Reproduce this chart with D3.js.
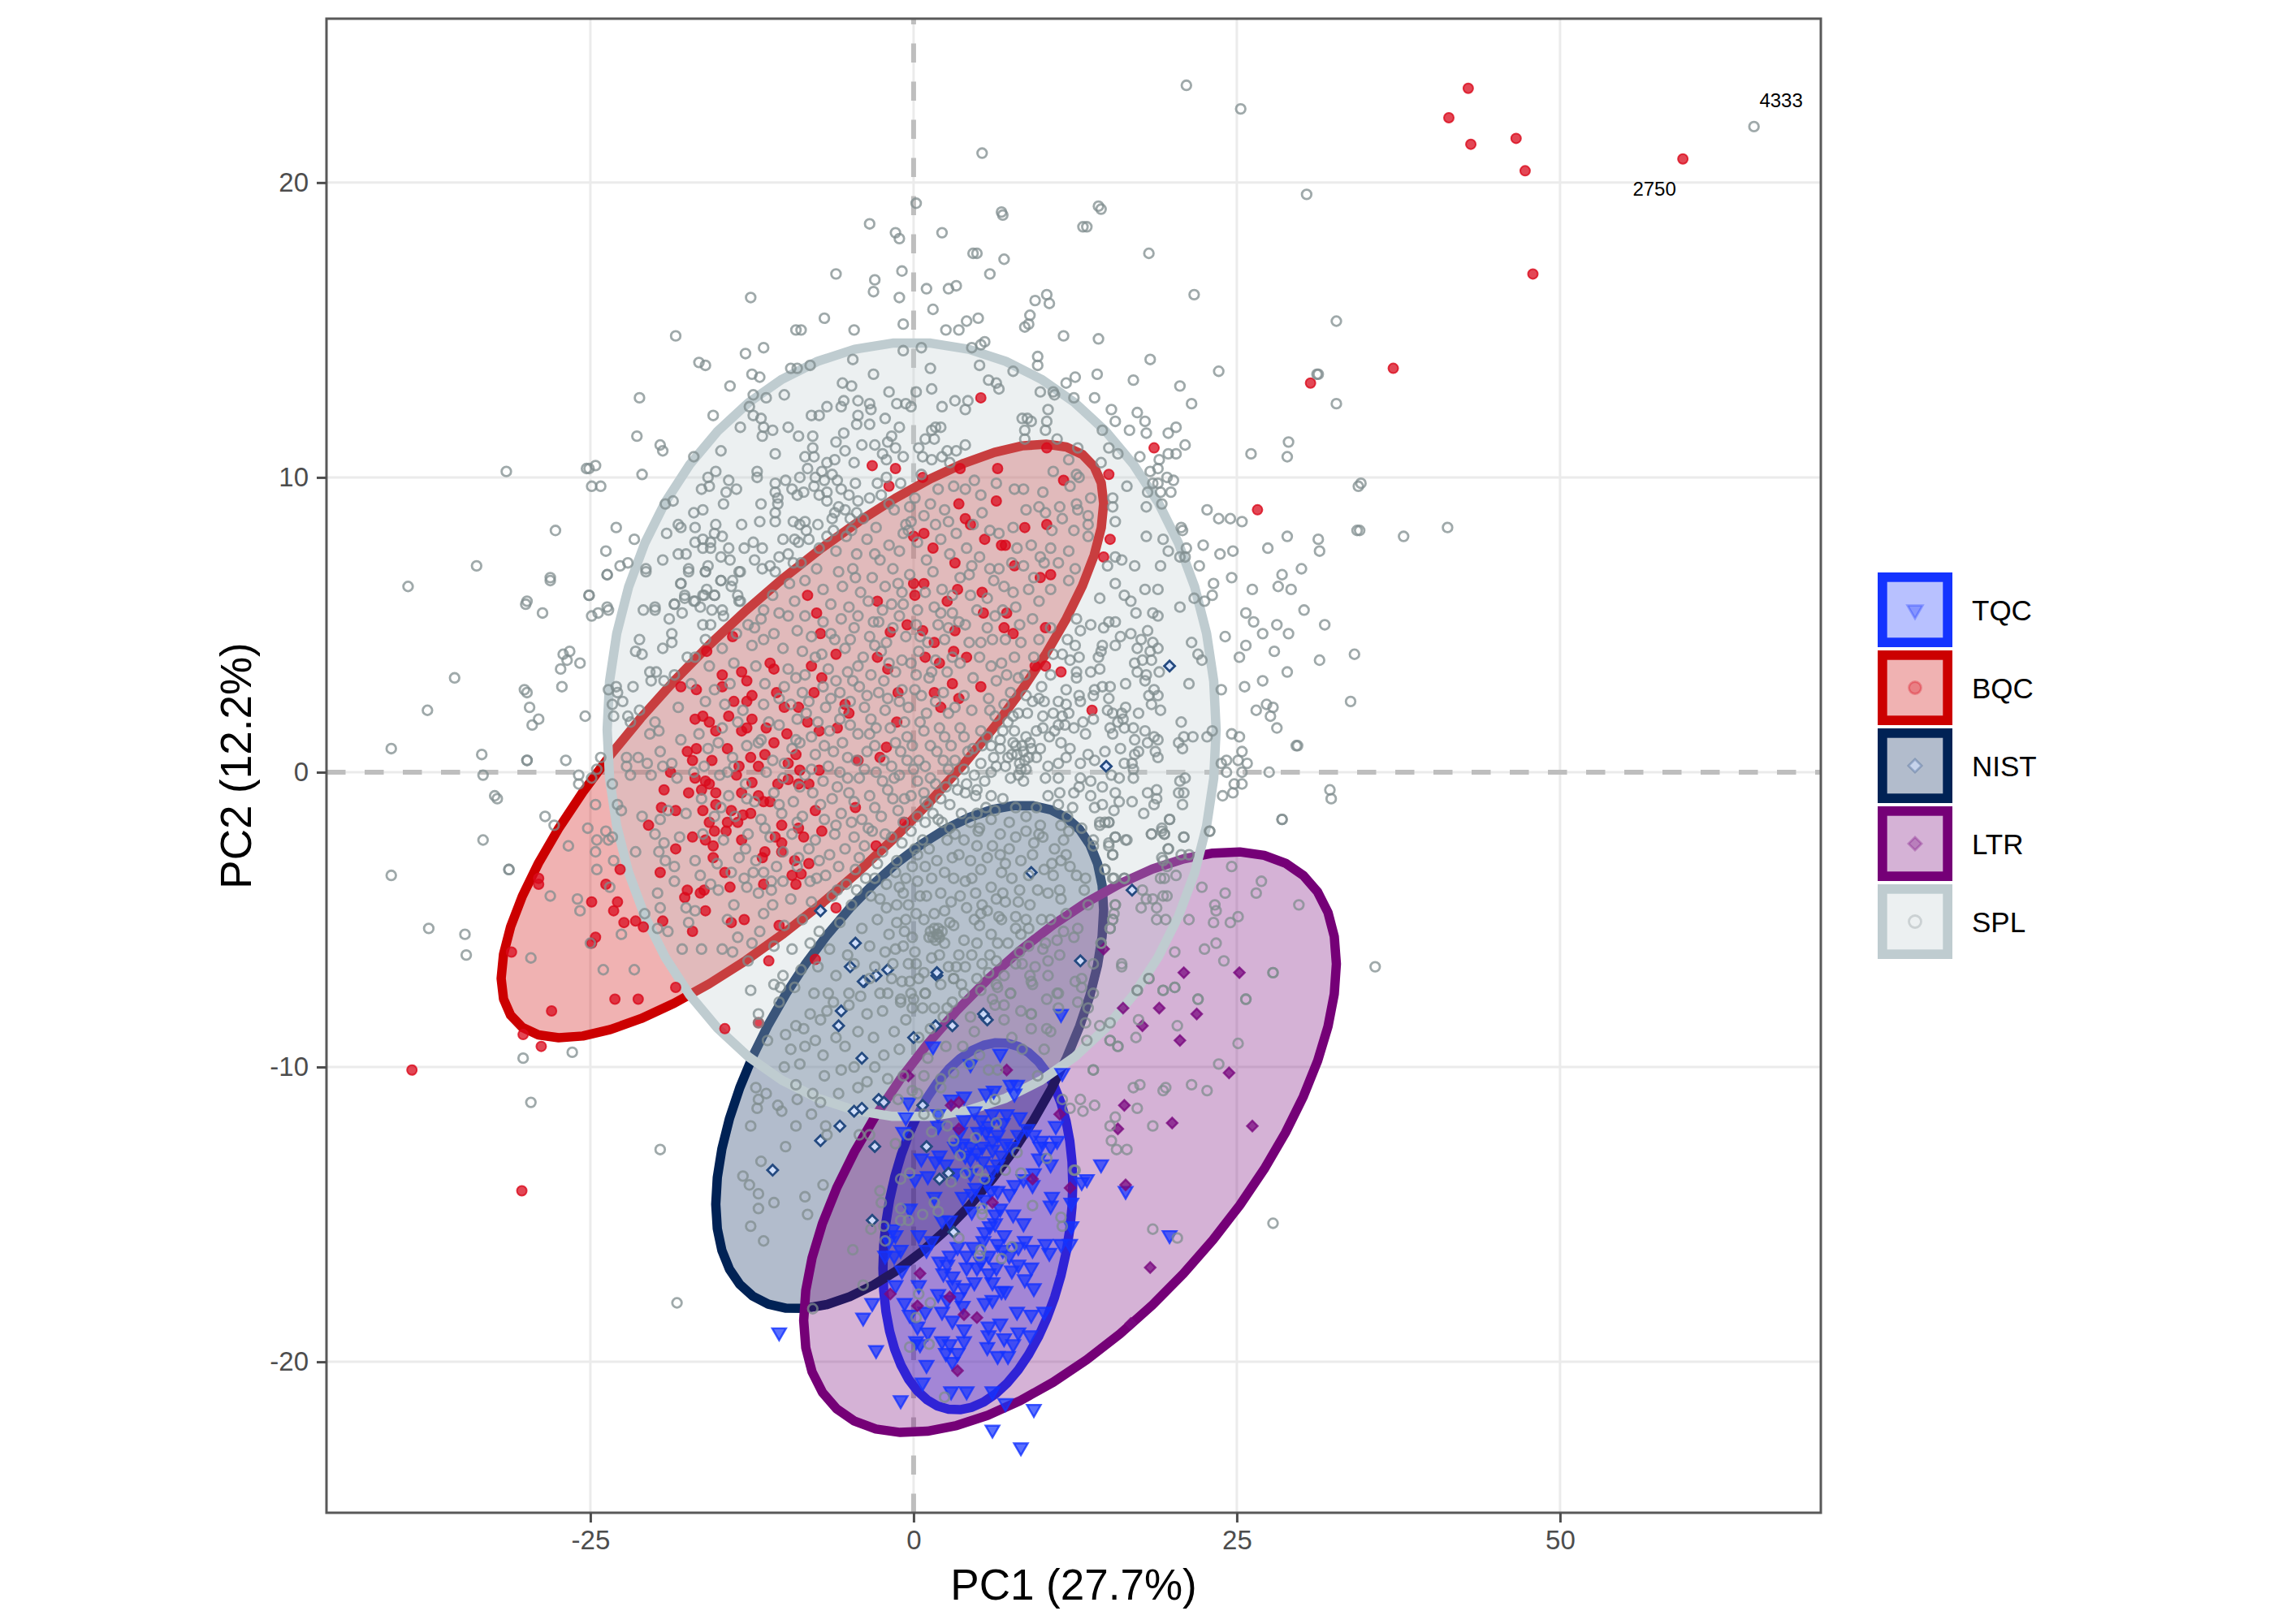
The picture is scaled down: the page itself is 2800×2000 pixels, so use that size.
<!DOCTYPE html>
<html>
<head>
<meta charset="utf-8">
<script src="https://cdn.jsdelivr.net/npm/d3@7"></script>
<style>
  body { margin: 0; background: #fff; }
  text { font-family: "Liberation Sans", Arial, sans-serif; }
</style>
</head>
<body>
<div id="chart"></div>
<script>
// Groups in drawing order
const groups = ["TQC", "BQC", "NIST", "LTR", "SPL"];
const ellipseColors = ["#1433FF", "#CC0000", "#002255", "#750077", "#BFCCD0"];

// Ellipse centres, half widths, half heights and correlation, PC units
const ellipseCx = [4.97, -8.6, -0.3, 12.1, -0.15];
const ellipseCy = [-15.4, 1.06, -9.66, -12.55, 1.44];
const ellipseSx = [7.34, 23.3, 15.0, 20.6, 23.55];
const ellipseSy = [6.23, 10.07, 8.54, 9.85, 13.14];
const ellipseR = [0.23, 0.8, 0.585, 0.614, 0.0];

const xTicks = [-25, 0, 25, 50];
const yTicks = [-20, -10, 0, 10, 20];

const labelNames = ["4333", "2750"];
const labelPC1 = [67.1, 57.3];
const labelPC2 = [22.8, 19.8];

const tqc = [[1.5,-9.3],[6.7,-9.55],[4.4,-9.9],[11.5,-10.2],[11.4,-8.2],[-0.4,-11.2],[-0.6,-11.7],[2.9,-11.1],[3.9,-11.0],[5.6,-10.9],[6.2,-10.8],[7.5,-10.6],[8.0,-10.6],[7.8,-10.9],[1.9,-11.6],[4.7,-11.5],[6.1,-11.6],[7.2,-11.6],[8.2,-11.7],[3.9,-11.8],[5.2,-11.8],[1.9,-12.0],[-0.8,-12.2],[5.8,-12.0],[6.9,-11.9],[8.8,-12.1],[11.0,-12.0],[5.6,-12.2],[6.5,-12.3],[8.1,-12.3],[9.3,-12.3],[9.9,-12.5],[11.1,-12.5],[3.8,-12.6],[6.1,-12.5],[4.4,-12.7],[3.2,-12.7],[5.3,-12.7],[7.6,-12.7],[9.8,-12.7],[10.6,-12.7],[6.1,-12.8],[0.6,-13.1],[2.0,-13.0],[4.0,-13.0],[9.7,-13.1],[1.7,-13.2],[2.5,-13.3],[4.4,-13.1],[10.6,-13.3],[6.5,-13.3],[14.5,-13.3],[0.1,-13.8],[1.1,-13.7],[3.3,-13.6],[4.4,-13.6],[6.1,-13.5],[8.5,-13.8],[9.3,-13.6],[7.8,-14.0],[9.2,-14.0],[13.0,-13.9],[13.4,-13.8],[16.4,-14.2],[1.6,-14.4],[3.8,-14.4],[4.5,-14.3],[6.5,-14.2],[7.4,-14.3],[10.7,-14.4],[12.2,-14.6],[5.5,-14.5],[10.6,-14.7],[-0.3,-14.8],[4.5,-14.9],[6.3,-15.0],[-1.6,-15.5],[2.2,-15.2],[2.8,-15.2],[8.5,-15.3],[12.2,-15.4],[6.3,-15.3],[-1.4,-15.7],[0.4,-15.7],[5.5,-15.6],[7.0,-15.7],[19.8,-15.7],[1.4,-15.9],[-1.9,-15.9],[5.4,-15.9],[6.5,-16.0],[8.6,-15.9],[10.2,-16.0],[11.4,-16.0],[12.1,-16.0],[-2.2,-16.4],[-1.0,-16.2],[-1.5,-16.4],[1.0,-16.2],[4.6,-16.1],[8.1,-16.1],[9.2,-16.2],[10.5,-16.3],[2.8,-16.4],[4.1,-16.4],[5.8,-16.4],[7.4,-16.4],[2.0,-16.6],[4.1,-16.8],[4.9,-16.8],[2.6,-16.7],[6.4,-16.8],[8.1,-16.7],[9.1,-16.8],[-0.9,-16.9],[0.4,-17.4],[2.3,-17.0],[5.8,-17.0],[8.6,-17.2],[6.8,-17.6],[9.3,-17.5],[-1.4,-17.4],[3.1,-17.4],[3.9,-17.5],[7.1,-17.6],[6.1,-17.3],[1.9,-17.7],[3.5,-17.8],[5.5,-18.0],[6.1,-17.9],[-3.2,-18.0],[-0.7,-18.0],[-0.3,-18.4],[0.9,-18.3],[2.2,-18.3],[8.0,-18.3],[10.1,-18.3],[9.1,-18.4],[-3.9,-18.5],[3.0,-18.6],[0.3,-18.8],[5.8,-18.8],[6.7,-18.7],[3.9,-18.9],[8.1,-19.0],[9.0,-19.1],[1.1,-19.0],[0.2,-19.3],[2.2,-19.3],[3.9,-19.3],[5.8,-19.1],[7.0,-19.2],[0.5,-19.4],[2.8,-19.4],[5.7,-19.5],[7.7,-19.4],[-10.4,-19.0],[-2.9,-19.6],[2.5,-19.7],[3.4,-19.7],[6.5,-19.8],[7.3,-19.8],[3.0,-20.0],[1.0,-20.1],[0.7,-20.7],[2.9,-21.0],[4.1,-21.0],[6.1,-21.0],[-1.0,-21.3],[7.1,-21.4],[9.3,-21.6],[6.1,-22.3],[8.3,-22.9],
[4.9,-12.9],[5.4,-13.2],[6.8,-13.0],[3.6,-12.2],[5.0,-12.2],[7.1,-12.6],[5.7,-13.9],[4.8,-14.1],[6.0,-14.2],[6.7,-14.8],[7.7,-15.0],[5.9,-15.4],[6.9,-16.2],[3.4,-16.1],[5.2,-16.6],[7.6,-16.9],[3.0,-17.1],[2.6,-17.9],[4.7,-17.3],[3.8,-18.1]];

const bqc = [[42.9,23.2],[41.4,22.2],[43.1,21.3],[46.6,21.5],[47.3,20.4],[47.9,16.9],[59.5,20.8],[30.7,13.2],[18.6,11.0],[26.6,8.9],[15.1,10.1],[11.6,9.9],[15.2,7.9],[14.7,7.3],[5.2,12.7],[10.3,11.0],[6.5,10.3],[6.4,9.2],[8.6,8.3],[10.3,8.4],[6.8,7.7],[7.1,7.7],[5.5,7.9],[9.8,6.6],[10.6,6.7],[7.8,7.0],[5.3,6.1],[37.1,13.7],[-30.3,-14.2],[-38.8,-10.1],[-28.8,-9.3],[-30.2,-8.9],[-28,-8.1],[-3.2,10.4],[-1.4,10.3],[0.7,10.0],[3.6,10.3],[-1.9,9.7],[3.5,9.1],[4.0,8.6],[4.4,8.4],[0,8.0],[0.8,8.1],[1.5,7.6],[3.2,7.1],[0,6.4],[0.8,6.4],[-8.2,6.0],[-2.8,5.8],[2.6,5.8],[0.1,6.0],[3.4,6.2],[-7.5,5.4],[-14.0,4.6],[-16.0,4.1],[-7.2,4.7],[-11.1,3.7],[-10.8,3.5],[-7.9,3.6],[-6.0,4.0],[-2.8,3.9],[-2.0,3.5],[-1.8,4.75],[-18.0,2.9],[-16.8,2.8],[-14.8,3.3],[-14.8,2.9],[-13.3,3.4],[-12.9,3.1],[-7.1,3.2],[-7.7,2.7],[-10.6,2.7],[-12.5,2.6],[-13.9,2.4],[-12.9,2.4],[-8.9,2.2],[-5.0,2.0],[-5.3,2.3],[-10.0,2.2],[-14.3,1.9],[-16.9,1.8],[-16.3,1.9],[-15.8,1.7],[-12.5,1.8],[-12.9,1.5],[-11.4,1.5],[-8.2,1.7],[-5.9,1.5],[-7.3,1.4],[-15.3,1.4],[-13.3,1.4],[-9.8,1.3],[-14.4,0.8],[-17.5,0.7],[-16.8,0.8],[-17.1,0.4],[-10.8,1.0],[-2.1,0.85],[-9.1,0.6],[-11.5,0.6],[-12.6,0.5],[-4.3,0.4],[-2.6,0.5],[-15.6,0.4],[-13.5,0.2],[-9.7,0.3],[-18.8,0],[-8.8,0.07],[-7.3,0.07],[-12.0,0.2],[-13.7,-0.1],[-16.9,-0.2],[-9.7,-0.25],[-16.1,-0.3],[-8.1,-0.4],[-12.5,-0.35],[-10.5,-0.4],[-15.8,-0.4],[-8.9,-0.4],[-19.3,-0.6],[-17.4,-0.7],[-16.4,-0.6],[-15.3,-0.7],[-13.3,-0.7],[-12.0,-0.8],[-15.3,-1.1],[-11.1,-1.0],[-11.6,-1.0],[-19.5,-1.2],[-18.4,-1.3],[-16.3,-1.3],[-7.6,-1.3],[-4.5,-1.2],[-14.1,-1.3],[-12.6,-1.4],[-13.2,-1.45],[-20.5,-1.8],[-14.4,-1.7],[-15.8,-1.7],[-13.6,-1.7],[-10.2,-1.8],[-8.9,-1.9],[-15.4,-2.0],[-14.5,-2.0],[-17.1,-2.2],[-7.1,-2.0],[-8.5,-2.2],[-13.3,-2.3],[-10.7,-2.2],[-16.1,-2.3],[-10.2,-2.4],[-15.5,-2.5],[-2.9,-2.5],[-18.4,-2.6],[-11.5,-2.7],[-10.2,-2.7],[-15.5,-2.9],[-11.7,-2.9],[-9.2,-3.0],[-8.1,-3.1],[-22.7,-3.3],[-19.6,-3.4],[-14.6,-3.4],[-9.4,-3.5],[-8.7,-3.45],[-14.2,-3.9],[-29.0,-3.8],[-23.8,-3.8],[-11.6,-3.8],[-9.1,-3.8],[-17.5,-4.0],[-16.2,-4.0],[-16.5,-4.1],[-17.7,-4.25],[-24.9,-4.4],[-22.9,-4.4],[-16.1,-4.7],[-23.2,-4.7],[-22.4,-5.1],[-21.5,-5.05],[-20.9,-5.25],[-19.4,-5.05],[-14.1,-5.1],[-13.1,-5.0],[-10.4,-5.2],[-24.6,-5.6],[-17.1,-5.4],[-31.1,-6.1],[-11.2,-6.4],[-6.0,-4.6],[-7.6,-6.35],[-29,-3.6],[-24.9,-5.8],[-23.1,-7.7],[-21.3,-7.7],[-18.4,-7.3],[-14.6,-8.7],[-12.0,-8.5],[7.2,5.4],[7.0,4.9],[7.7,4.7],[10.2,4.9],[-0.5,5.0],[1.6,4.4],[3.1,4.1],[4.1,3.9],[2.0,3.7],[9.4,3.6],[10.2,3.6],[11.4,3.4],[13.8,2.1],[3.0,3.0],[5.2,2.9],[1.6,2.7],[-1.2,2.7],[-1.3,1.7],[3.5,2.5],[2.1,2.2],[0.7,4.8],[3.2,4.8],[5.4,5.4],[0.9,3.9],[-0.7,-1.7]];

const nist = [[-7.2,-4.7],[-4.9,-6.6],[-2.9,-6.9],[-3.8,-7.1],[1.8,-6.9],[-5.6,-8.1],[-5.8,-8.6],[0.0,-9.0],[1.7,-8.6],[3.0,-8.6],[5.5,-8.3],[5.7,-8.4],[-4.0,-9.7],[-2.7,-11.1],[-2.3,-11.2],[-4.6,-11.5],[-4.0,-11.4],[0.7,-11.3],[-5.7,-12.0],[-7.2,-12.5],[-3.0,-12.7],[1.0,-12.7],[-10.9,-13.5],[2.7,-13.6],[2.0,-13.8],[-3.2,-15.2],[3.1,-15.6],[19.8,3.6],[14.9,0.2],[9.1,-3.4],[16.9,-4.0],[1.8,-6.8],[12.9,-6.4],[5.4,-8.2],[-4.5,-5.8],[-2.0,-6.7],[-3.9,-7.1]];

const ltr = [[20.9,-6.8],[25.2,-6.8],[16.2,-8.0],[19.0,-8.0],[21.9,-8.2],[17.7,-8.6],[20.6,-9.1],[24.4,-10.2],[16.3,-11.3],[20.0,-11.9],[15.8,-12.1],[26.2,-12.0],[16.4,-14.0],[12.1,-14.1],[11.3,-11.6],[14.7,-6.0],[-0.4,-10.3],[7.2,-10.1],[2.9,-11.3],[3.5,-11.2],[3.5,-12.1],[9.2,-13.8],[6.1,-14.6],[0.5,-17.0],[-1.8,-17.7],[2.8,-17.8],[0.3,-18.1],[3.9,-18.4],[4.9,-18.5],[3.4,-20.3],[18.3,-16.8],[16.8,-18.7]];

const spl = [
[35.7,-6.6],[24.6,-3.2],[26.9,-3.7],[26.5,-4.1],[29.8,-4.5],[22.3,-3.9],[24.1,-4.1],[23.3,-4.5],[23.4,-4.7],[25.1,-4.9],[24.5,-5.1],[23.2,-5.1],[21.3,-5.0],[23.4,-5.8],[22.5,-6.0],[20.2,-6.1],[24.0,-6.4],[27.8,-6.8],[18.2,-7.0],[20.2,-7.3],[19.3,-7.4],[17.3,-7.4],[22.0,-7.7],[25.7,-7.7],[17.4,-8.4],[20.4,-8.6],[17.2,-9.0],[25.1,-9.2],[23.6,-9.9],[16.1,-6.5],[15.2,-9.1],[15.8,-9.3],[15.2,-8.5],[13.9,-10.1],[17.5,-10.6],[17.0,-10.7],[19.5,-10.7],[19.3,-10.8],[21.5,-10.6],[22.7,-10.8],[17.3,-11.4],[14.0,-11.3],[12.9,-11.1],[13.1,-11.5],[12.1,-11.4],[15.6,-11.7],[15.2,-12.0],[18.5,-12.0],[15.3,-12.5],[15.7,-12.8],[16.5,-12.8],[12.5,-13.5],
[22.9,-2.0],[20.9,-2.2],[19.8,-1.6],[18.4,-2.1],[19.4,-2.1],[19.2,-1.9],[19.7,-2.6],[16.5,-2.3],[15.6,-2.2],[15.1,-1.7],[14.4,-1.7],[15.1,-2.4],[15.4,-2.8],[14.8,-3.3],[15.4,-3.6],[16.3,-3.6],[17.7,-4.0],[19.1,-3.6],[19.4,-3.6],[20.3,-3.5],[19.6,-3.2],[20.7,-2.8],[19.2,-2.9],[19.3,-4.2],[19.6,-4.2],[18.5,-4.3],[18.0,-4.3],[17.6,-4.6],[18.8,-4.6],[19.5,-5.0],[18.8,-5.0],[15.6,-4.5],[15.5,-4.8],[15.4,-5.0],[15.2,-5.3],[28.5,-1.6],[14.5,-5.8],
[6.9,18.9],[14.5,19.1],[13.4,18.5],[18.2,17.6],[7.0,17.4],[4.9,17.6],[5.9,16.9],[21.7,16.2],[10.3,16.2],[9.4,16.0],[10.5,15.9],[9.0,15.5],[5.0,15.4],[8.9,15.2],[8.6,15.1],[11.6,14.8],[14.3,14.7],[5.5,14.6],[5.2,14.5],[9.6,14.1],[18.3,14.0],[9.6,13.8],[5.1,13.8],[7.7,13.6],[23.6,13.6],[5.8,13.3],[6.4,13.2],[6.6,13.0],[12.5,13.4],[11.8,13.2],[14.2,13.5],[17.0,13.3],[20.6,13.1],[9.8,12.9],[10.8,12.9],[10.9,12.8],[12.4,12.7],[14.0,12.7],[21.5,12.5],[10.4,12.3],[15.3,12.3],[17.3,12.2],[17.9,11.9],[15.6,11.9],[10.3,11.9],[8.8,12.0],[8.4,12.0],[9.1,11.9],[8.6,11.6],[10.2,11.6],[14.6,11.6],[16.7,11.6],[18.0,11.5],[20.3,11.7],[19.7,11.5],[21.0,11.1],[8.6,11.3],[11.1,11.3],[12.7,11.0],[15.1,11.0],[15.8,10.8],[17.5,10.7],[19.0,10.6],[19.7,10.8],[20.3,10.8],[26.1,10.8],[29.0,11.2],[28.9,10.7],[31.3,13.5],[32.7,12.5],[14.5,10.5],[18.9,10.3],[18.3,10.2],[19.6,10.0],[20.1,9.9],[16.5,9.7],[18.5,9.8],[18.9,9.8],[18.1,9.5],[19.1,9.5],[19.9,9.5],[34.4,9.7],[15.4,9.3],[18.0,9.0],[19.2,9.1],[22.7,8.9],[23.6,8.6],[24.5,8.6],[25.4,8.5],[20.7,8.3],[20.8,8.2],[34.5,8.2],[28.9,8.0],[31.3,7.9],[31.4,7.5],[22.4,7.7],[23.7,7.4],[24.7,7.5],[27.4,7.6],[21.1,7.6],[19.3,7.9],[19.7,7.5],[18.0,8.0],[20.6,7.3],[21.0,7.3],[17.1,7.0],[19.1,7.0],[22.1,7.0],[30.0,6.9],[28.5,6.7],[28.2,6.3],[23.2,6.4],[23.1,6.0],[21.7,5.9],[22.5,5.8],[20.6,5.6],[17.9,6.2],[18.9,6.2],[15.6,6.4],[16.1,7.2],[15.6,7.3],[15.0,7.0],[15.6,8.5],[15.4,9.0],[14.4,5.9],[16.3,6.0],[16.8,5.8],
[6.4,9.8],[10.8,10.2],[12.6,10.1],[12.1,9.7],[12.8,10.0],[12.0,10.6],[10.0,9.5],[13.7,9.3],[8.5,9.6],[7.8,9.6],[12.6,9.1],[12.7,8.9],[11.3,9.0],[9.7,9.0],[8.7,8.9],[10.2,8.8],[11.5,8.6],[13.5,8.7],[13.5,8.4],[10.7,8.2],[12.4,8.2],[7.7,8.3],[6.6,8.1],[13.5,8.0],[10.6,7.6],[9.1,7.7],[12.0,7.5],[8.0,7.6],[9.8,7.3],[10.1,7.1],[11.2,7.1],[12.5,6.9],[8.5,7.0],[9.3,6.6],[12.0,6.5],[10.6,6.2],[7.0,6.3],[7.7,6.1],
[0.2,19.3],[-3.4,18.6],[-1.4,18.3],[-1.1,18.1],[2.2,18.3],[4.6,17.6],[-0.9,17.0],[-6.0,16.9],[-3.0,16.7],[-3.1,16.3],[1.0,16.4],[2.7,16.4],[3.3,16.5],[-1.1,16.1],[-12.6,16.1],[1.5,15.7],[-6.9,15.4],[-0.8,15.2],[4.1,15.3],[3.5,15.0],[2.5,15.0],[-4.6,15.0],[-9.1,15.0],[-8.7,15.0],[-18.4,14.8],[-11.6,14.4],[-13.0,14.2],[-0.8,14.3],[0.6,14.4],[4.5,14.4],[-4.7,14.0],[-16.6,13.9],[-16.1,13.8],[-8.0,13.8],[-9.5,13.7],[-9.0,13.7],[-3.1,13.5],[1.3,13.7],[-12.5,13.5],[-11.9,13.4],[-14.2,13.1],[-5.5,13.2],[-4.8,13.1],[-1.9,12.9],[0.2,12.9],[1.4,13.0],[-12.4,12.8],[-11.4,12.7],[-10.0,12.8],[-21.2,12.7],[-12.7,12.4],[-4.3,12.6],[-5.4,12.6],[-5.6,12.4],[-6.7,12.4],[-3.4,12.5],[-3.3,12.3],[-4.3,12.1],[-1.3,12.5],[-0.6,12.5],[-0.2,12.4],[2.2,12.4],[3.2,12.6],[4.2,12.6],[4.0,12.3],[-15.5,12.1],[-12.4,12.1],[-11.8,12.0],[-7.9,12.1],[-7.3,12.1],[-2.2,12.0],[-3.4,11.8],[-4.4,11.8],[-13.4,11.7],[-11.6,11.7],[-10.9,11.6],[-9.7,11.7],[-1.1,11.7],[1.7,11.7],[2.1,11.7],[1.4,11.6],[-21.4,11.4],[-11.7,11.4],[-8.9,11.4],[-7.8,11.4],[-5.4,11.5],[-1.7,11.4],[0.9,11.3],[1.6,11.3],[-19.6,11.1],[-19.4,10.9],[-6.0,11.2],[-4.0,11.1],[-3.0,11.1],[-2.0,11.2],[-7.8,11.0],[-1.4,11.0],[0.4,11.0],[4.0,11.1],[-14.9,10.9],[-10.7,10.8],[-5.3,10.9],[3.3,10.9],[2.6,10.9],[-17.0,10.7],[-8.4,10.7],[-7.7,10.7],[-6.1,10.6],[-6.7,10.5],[-2.4,10.8],[-2.1,10.6],[-0.8,10.7],[0.7,10.7],[1.4,10.6],[2.2,10.7],[2.8,10.5],[-24.6,10.4],[-25.1,10.3],[-4.6,10.5],[-8.2,10.3],[-15.3,10.2],[-12.1,10.2],[-21.0,10.1],[-7.1,10.2],[-6.3,10.1],[-15.9,10.0],[-12.1,10.0],[-8.8,10.0],[-7.6,10.0],[-2.1,10.0],[-24.9,9.7],[-24.2,9.7],[-14.3,9.9],[-10.7,9.8],[-9.9,9.9],[-6.9,9.9],[-5.9,9.9],[-4.5,9.8],[-2.8,9.8],[-15.8,9.7],[-16.4,9.6],[-13.7,9.6],[-14.5,9.5],[-9.4,9.6],[-8.5,9.5],[-7.7,9.7],[-5.6,9.6],[-6.7,9.5],[-10.7,9.5],[-9.0,9.4],[-7.3,9.4],[-5.0,9.4],[-2.5,9.4],[-18.6,9.2],[-19.2,9.1],[-10.5,9.3],[-6.7,9.2],[-4.3,9.2],[-14.7,9.1],[-11.8,9.1],[-10.5,9.1],[-5.8,9.0],[-16.3,8.9],[-17.0,8.8],[-10.7,8.8],[-5.3,8.9],[-4.4,8.8],[-6.3,8.6],[-4.9,8.6],[-23.0,8.3],[-18.2,8.4],[-18.0,8.3],[-16.9,8.3],[-15.3,8.4],[-13.3,8.4],[-11.9,8.5],[-10.7,8.5],[-9.3,8.5],[-8.4,8.5],[-8.8,8.4],[-7.4,8.4],[-6.2,8.2],[-21.6,7.9],[-19.1,8.1],[-15.4,8.1],[-14.8,8.0],[-8.3,8.2],[-9.2,7.9],[-8.1,7.9],[-16.3,7.9],[-16.9,7.8],[-15.7,7.8],[-23.8,7.5],[-22.1,7.1],[-22.7,7.0],[-23.7,6.7],[-20.7,6.9],[-19.4,7.2],[-18.2,7.4],[-17.6,7.4],[-16.3,7.6],[-15.7,7.6],[-14.3,7.6],[-13.1,7.6],[-12.4,7.8],[-11.7,7.6],[-14.9,7.3],[-14.2,7.2],[-12.3,7.2],[-10.4,7.3],[-9.7,7.4],[-11.7,6.9],[-11.1,7.0],[-9.3,7.1],[-15.9,7.0],[-17.4,6.9],[-13.5,6.8],[-16.1,6.8],[-10.7,6.8],[-18.0,6.4],[-14.9,6.5],[-14.0,6.5],[-14.1,6.3],[-16.0,6.2],[-25.1,6.0],[-17.7,6.0],[-18.5,5.7],[-16.3,6.0],[-15.4,6.0],[-17.0,5.8],[-13.6,6.0],[-13.4,5.8],[-23.7,5.6],[-20.0,5.6],
[-28.1,6.5],[-23.7,6.7],[-30.0,5.7],[-28.7,5.4],[-25.1,6.0],[-23.6,5.5],[-24.4,5.4],[-24.9,5.3],[-27.1,4.0],[-25.8,3.7],[-27.3,3.5],[-27.2,2.9],[-29.9,2.7],[-29.7,2.2],[-29.0,1.8],[-29.5,1.6],[-25.4,1.9],[-29.9,0.4],[-26.9,0.4],[-24.2,0.5],[-32.2,-0.9],[-25.9,-0.1],[-25.9,-0.4],[-24.9,-0.2],[-24.5,0.1],[-28.5,-1.5],[-27.8,-1.8],[-31.3,-3.3],[-26.7,-2.5],[-25.2,-1.9],[-24.6,-1.1],[-24.5,-2.3],[-23.8,-2.0],[-23.3,-2.2],[-23.6,-2.3],[-24.6,-2.7],[-23.2,-3.0],[-24.5,-3.3],[-28.1,-4.2],[-26.0,-4.3],[-25.8,-4.7],[-23.5,-3.9],[-29.6,-6.3],[-25.0,-5.8],[-22.6,-5.5],[-24.0,-6.7],[-21.6,-6.7],[-21.5,-2.7],[-20.8,-4.8],[-23.3,-0.4],[-22.9,-1.1],[-22.6,-1.3],[-23.0,2.9],[-23.6,2.8],[-22.9,2.7],[-22.5,2.4],[-23.3,2.3],[-23.2,1.9],[-21.7,2.9],[-21.2,2.1],[-22.1,1.9],[-21.9,1.7],[-20.4,1.3],[-19.7,1.4],[-20.0,1.7],[-20.3,3.1],[-20.4,3.4],[-19.9,3.4],[-19.3,3.1],[-18.5,3.3],[-19.4,4.2],[-21.5,4.1],[-21.0,4.0],[-21.2,4.5],[-18.7,4.7],[-18.7,4.4],[-20.9,5.5],[-20.0,5.5],[-18.9,5.2],[-17.9,5.4],[-17.7,5.9],[-18.5,5.7],[-16.9,5.8],[-16.5,5.6],[-15.6,5.5],[-18.0,6.4],[-16.2,6.0],[-15.4,6.0],[-14.7,5.3],[-14.8,5.5],[-13.5,5.8],[-13.4,6.8],[-14.9,6.5],[-16.1,6.8],[-17.4,6.8],[-20.7,6.8],[-16.3,5.0],[-15.7,5.0],[-16.1,4.5],[-17.5,3.9],[-16.9,3.9],[-14.8,4.2],[-13.7,4.7],[-12.8,5.0],[-11.6,4.5],[-10.8,4.7],[-9.7,5.3],[-11.6,5.5],
[-22.2,0.5],[-21.3,0.5],[-20.6,0.3],[-22.2,0.2],[-21.9,-0.1],[-20.3,-0.1],[-19.6,0.7],[-18.7,0.3],[-19.4,0.2],[-18.3,-0.2],[-17.0,0],[-14.4,0],[-21.0,-1.5],[-19.6,-1.6],[-19.0,-1.3],[-20.0,-2.1],[-19.3,-2.4],[-19.7,-2.7],[-19.2,-3.0],[-18.5,-3.2],[-18.5,-3.7],[-19.8,-4.1],[-19.6,-4.6],[-17.6,-4.6],[-19.8,-5.3],[-19.0,-5.4],[-17.4,-5.1],[-17.9,-6.0],[-16.4,-6.0],[-16.9,-4.7],[-15.1,-4.0],[-11.6,-4.8],[-12.9,-3.9],[-13.9,-4.5],[-14.4,-5.0],[-12.0,-4.1],[-14.8,-6.0],[-14.0,-6.1],[-11.9,-5.4],[-11.0,-4.0],
[17.2,5.4],[18.5,5.4],[18.9,5.3],[25.7,5.4],[28.1,5.0],[29.0,4.7],[27.0,4.7],[24.1,4.6],[25.7,4.3],[25.2,3.9],[27.0,3.1],[25.6,2.9],[23.8,2.8],[27.3,2.3],[27.8,2.2],[27.6,1.9],[24.6,1.3],[25.2,1.2],[25.4,0.7],[29.6,0.9],[24.2,0.4],[23.8,0.3],[25.1,0.4],[25.8,0.3],[24.2,0],[25.4,0],[27.5,0],[24.8,-0.4],[25.4,-0.4],[23.9,-0.8],[24.7,-0.7],[28.5,-1.6],[22.9,-2.0],[21.5,4.4],[22.0,4.0],[22.3,3.8],[21.3,3.0],[20.7,1.7],[21.6,1.2],[22.7,1.2],[23.1,1.4],[20.9,1.2],[20.5,1.0],[20.8,0.8],[18.9,0.5],[18.7,0.7],[17.4,0.7],[17.1,0.6],[16.0,0.8],[14.8,0.7],[14.0,0.4],[13.5,0.6],[12.9,0.3],[16.3,0.3],[16.9,0.3],[17.0,0.1],[17.0,-0.2],[15.9,-0.2],[15.3,-0.1],[21.0,-0.2],[20.6,-0.3],[20.5,-0.7],[20.9,-0.7],[20.8,-1.1],[18.8,-0.6],[18.8,-0.9],[18.1,-0.7],[18.6,-1.1],[16.9,-1.0],[17.8,-1.4],[15.5,-1.3],[15.9,-1.0],[15.6,-0.7],[14.6,-0.5],[13.7,-0.3],[12.9,-0.2],[13.7,-0.8],[12.8,-0.5],[12.4,-0.7],[11.3,-0.7],[10.4,-0.8],[11.2,-1.1],[12.3,-1.2],[14.0,-1.2],[14.6,-1.1],[11.9,-1.5],[19.8,-1.6],[19.2,-2.0],[19.4,-2.1],[18.4,-2.1],[20.9,-2.2],[19.7,-2.6],[19.3,-3.0],[21.3,-2.8],[16.4,-2.3],[15.6,-2.2],[15.1,-2.5],[15.4,-2.8],[14.4,-1.8],[14.8,-1.7],[15.1,-1.7],[13.0,-1.9],[13.9,-2.3],[13.9,-2.5],[14.8,-3.3],[15.5,-3.6],[16.3,-3.6],
[18.1,4.8],[16.8,4.7],[17.6,4.5],[18.5,4.4],[17.3,4.2],[18.3,4.1],[18.9,4.2],[15.6,5.1],[15.1,5.1],[14.7,4.9],[12.9,4.8],[13.7,5.0],[12.6,5.2],[16.0,4.6],[15.6,4.3],[14.6,4.3],[14.5,4.1],[14.3,3.9],[12.8,3.9],[12.5,4.3],[11.9,4.5],[12.1,3.8],[11.5,4.0],[10.8,4.0],[18.4,3.8],[17.1,3.7],[17.7,3.8],[17.3,3.4],[18.0,3.3],[19.0,3.4],[17.9,3.1],[16.4,3.0],[14.4,3.5],[13.7,3.4],[12.6,3.4],[12.6,3.2],[15.2,2.9],[14.6,2.9],[14.0,2.8],[11.8,2.8],[12.8,2.6],[13.9,2.6],[15.1,2.5],[18.6,2.8],[18.2,2.6],[18.9,2.6],[18.4,2.3],[19.1,2.1],[16.4,2.2],[16.1,2.0],[15.0,2.1],[15.4,2.0],[17.4,2.0],[16.2,1.8],[15.8,1.7],[13.9,1.8],[12.9,2.4],[11.8,2.3],[11.2,2.4],[10.1,2.4],[9.2,2.4],[9.7,2.5],[10.8,2.0],[11.5,1.9],[12.0,2.0],[10.0,1.9],[7.3,1.7],[13.1,1.7],[12.4,1.5],[11.7,1.6],[11.2,1.6],[16.3,1.5],[15.2,1.5],[17.0,1.5],[17.9,1.4],[15.4,1.3],[13.3,1.3],[18.6,1.2],[18.9,1.1],[18.1,1.0],[17.1,1.1],[9.5,1.4],[10.0,1.5],[10.9,1.4],[10.5,1.2],[8.7,1.2],[7.8,1.4],[11.4,1.0],[12.1,0.8],[9.8,0.8],[9.1,0.8],[11.8,0.5],[11.2,0.3],[10.4,0.2],[9.5,0.5],[8.5,0.7],[7.7,1.0],[6.7,1.1],[6.7,0.8],[6.0,0.9],[5.3,0.9],[7.3,0.5],[6.2,0.5],[8.3,0.1],[7.1,0.2],[6.0,0],[4.7,-0.1],[7.5,-0.2],[8.5,-0.3],[10.2,-0.2],[11.2,-0.2],[5.5,-0.3],[4.1,-0.4],[3.1,-0.3],[4.9,-0.6],[4.0,-0.7],[6.0,-0.8],[6.9,-0.9],
[8.0,0.6],[8.4,0.9],[8.9,0.5],[8.2,0.3],[7.9,0.9],[8.6,0.4],[9.0,1.0],[7.6,0.6],[8.7,0.1],[8.1,-0.1],
[7.9,-1.2],[5.6,-1.2],[6.3,-1.3],[9.5,-1.2],[8.7,-1.5],[7.4,-1.7],[9.8,-1.8],[4.4,-1.7],[3.2,-2.1],[2.2,-1.7],[11.4,-1.8],[12.0,-2.0],[11.6,-2.3],[8.7,-2.0],[6.7,-2.1],[7.9,-2.2],[9.7,-2.1],[5.1,-1.9],[3.9,-2.3],[10.9,-2.6],[9.3,-2.4],[7.4,-2.6],[6.1,-2.5],[4.9,-2.5],[3.0,-2.9],[1.2,-2.6],[11.8,-2.8],[9.2,-2.8],[10.7,-3.1],[12.1,-3.2],[8.3,-3.0],[6.8,-3.4],[5.2,-3.3],[4.0,-3.7],[2.4,-3.4],[0.9,-3.2],[12.6,-3.5],[10.8,-3.5],[7.6,-3.6],[6.0,-3.9],[8.2,-4.0],[9.6,-4.0],[11.3,-4.0],[13.3,-3.6],[13.2,-4.0],[10.4,-4.1],[4.8,-4.1],[3.6,-4.2],[2.1,-4.1],[0.5,-4.2],[-0.8,-4.1],[6.4,-4.3],[7.1,-4.4],[9.0,-4.5],[11.4,-4.3],[5.3,-4.5],[13.5,-4.5],[15.6,-4.5],[-1.3,-4.5],[2.4,-4.7],[5.2,-4.8],[6.6,-4.9],[7.9,-4.9],[8.7,-5.0],[11.8,-4.8],[15.4,-5.0],[4.7,-5.0],[2.8,-5.1],[0.2,-4.8],[-0.6,-5.0],[5.1,-5.2],[10.6,-5.0],[15.2,-5.3],[12.7,-5.3],[6.0,-5.5],[7.9,-5.3],[8.9,-5.3],[11.6,-5.4],[-0.7,-5.4],[1.2,-5.6],[1.9,-5.5],[2.4,-5.8],[3.9,-5.7],[7.3,-5.8],[10.2,-5.8],[12.4,-5.6],[14.5,-5.8],[11.1,-5.7],[11.3,-6.2],[0.1,-6.1],[-1.4,-6.0],[3.5,-6.2],[4.5,-6.2],[5.3,-6.5],[6.4,-6.4],[3.1,-7.0],[0.2,-6.5],[2.7,-6.6],[7.9,-6.5],[8.4,-6.5],[10.4,-6.4],[13.9,-6.5],[16.1,-6.6],[0.8,-6.8],[4.9,-7.0],[3.7,-7.2],[6.4,-7.2],[10.4,-6.9],[13.0,-7.0],[12.5,-7.1],[9.2,-7.2],[18.2,-7.0],[-1.0,-7.7],[0.9,-7.5],[0.0,-7.7],[7.5,-7.5],[11.2,-7.5],[17.3,-7.4],[19.3,-7.4],[20.2,-7.3],[22.0,-7.7],[25.7,-7.7],[27.8,-6.8],[2.6,-8.0],[-0.1,-8.0],[10.3,-7.7],[6.1,-7.7],[12.7,-7.8],[13.5,-8.0],[11.2,-8.0],[7.0,-7.9],[9.1,-8.2],
[1.8,-5.5],[1.6,-5.3],[2.0,-5.6],[1.5,-5.6],[1.9,-5.3],[2.2,-5.4],[1.7,-5.7],[1.3,-5.4],
[-12.6,-7.4],[-10.8,-7.2],[-10.3,-7.3],[-10.4,-7.8],[-12.0,-8.2],[-12.0,-8.5],[-11.3,-9.1],[-9.9,-8.9],[-9.1,-8.6],[-8.5,-8.7],[-7.6,-9.1],[-8.4,-9.3],[-7.2,-8.4],[-6.7,-8.1],[-6.6,-7.5],[-5.0,-7.5],[-5.0,-7.9],[-4.3,-8.8],[-3.6,-8.2],[-2.6,-7.5],[-1.0,-7.8],[-1.5,-8.8],[-0.2,-7.5],[0.9,-7.5],[-0.3,-7.1],[0.7,-8.0],[1.3,-8.7],[3.1,-7.0],[3.9,-7.5],[6.5,-7.3],[7.5,-7.5],[9.1,-7.1],[11.1,-7.5],[13.0,-7.3],[13.9,-7.5],[9.1,-8.2],[6.3,-7.9],[4.4,-8.3],[4.7,-8.8],[2.3,-8.3],[3.8,-9.3],[5.1,-9.6],[7.6,-9.0],[9.1,-8.7],[10.3,-8.7],[10.6,-8.8],[13.3,-8.5],[14.4,-8.6],[15.2,-9.1],[15.8,-9.3],[13.4,-9.1],[10.1,-9.4],[5.8,-10.1],[6.5,-10.1],[9.6,-10.3],[13.9,-10.1],[18.5,-15.5],[20.4,-15.8],[11.5,-11.1],[-12.2,-10.7],[-11.4,-10.9],[-12.0,-11.1],[-12.1,-11.4],[-10.5,-11.3],[-10.2,-11.5],[-9.0,-11.1],[-12.6,-12.0],[-9.1,-10.6],[-7.8,-10.9],[-7.9,-11.6],[-6.8,-12.0],[-5.8,-10.9],[-7.2,-11.2],[-6.9,-10.3],[-4.6,-10.0],[-3.0,-10.0],[-3.6,-10.5],[-4.3,-10.7],[-2.0,-10.4],[-4.2,-12.3],[-3.4,-12.3],[-1.4,-12.6],[-9.1,-12.0],[-9.9,-12.7],[-11.8,-13.2],[-13.2,-13.7],[-12.7,-14.0],[-12.0,-14.3],[-12.0,-14.8],[-12.6,-15.4],[-11.6,-15.9],[-10.8,-14.6],[-8.2,-15.0],[-8.4,-14.4],[-7.0,-14.0],[-6.7,-12.3],[-4.7,-16.2],[-3.9,-17.4],[-7.8,-18.2],[-3.3,-15.5],[-2.6,-14.2],[-2.5,-14.6],[-2.2,-15.9],[-2.3,-15.4],[-1.0,-13.8],[-0.3,-13.6],[-1.0,-14.8],[-1.0,-15.2],[-0.4,-15.2],[0.7,-15.0],[1.6,-14.6],[1.9,-14.9],[0.8,-11.6],[-0.1,-10.8],[-0.8,-10.3],[0.8,-10.3],[2.1,-10.7],[2.1,-10.4],[-0.4,-12.3],[1.4,-12.2],[2.6,-12.0],[1.9,-11.6],[3.1,-12.5],[4.8,-12.4],[6.4,-11.9],[6.3,-11.1],[3.6,-13.0],[4.0,-13.6],[5.0,-13.5],[5.5,-13.8],[7.1,-13.5],[8.3,-13.6],[2.9,-13.9],[10.3,-13.1],[8.0,-12.9],[12.4,-13.5],[9.2,-14.7],[5.3,-14.8],[5.3,-15.0],[3.5,-15.8],[11.4,-15.1],[11.5,-15.4],[7.6,-16.1],[5.2,-16.2],[5.1,-16.4],[6.8,-16.5],[0.4,-17.7],[1.3,-18.0],[0.2,-18.5],[-0.3,-19.5],[1.2,-19.4],[2.4,-21.2],
[-18.3,-18.0],[-19.6,-12.8],[27.8,-15.3],[-29.6,-11.2],[-30.2,-9.7],[-26.4,-9.5],[-40.4,-3.5],[-37.5,-5.3],[-34.7,-5.5],[-34.6,-6.2],[-39.1,6.3],[-37.6,2.1],[-35.5,3.2],[-40.4,0.8],[-31.5,10.2],[-33.8,7.0],[-27.7,8.2],[-28.1,6.6],[-25.3,10.3],[-33.4,0.6],[-33.3,-0.1],[-32.4,-0.8],[-33.3,-2.3],[-31.3,-3.3],[-29.9,0.4],[-30.1,2.8],[-29.9,5.8],[-26.6,4.1],[-26.8,3.8],
[21.1,23.3],[25.3,22.5],[30.4,19.6],[65,21.9],[5.3,21.0],[41.3,8.3],[37.9,8.0],[34.6,9.8],[34.3,8.2],[33.8,2.4],[34.1,4.0],[31.8,5.0],[31.4,3.8],[29.7,0.9],[32.2,-0.6],[32.3,-0.9],[32.7,15.3],[31.2,13.5],[6.8,19.0],[13.1,18.5],[14.3,19.2],[26.3,5.1],[27.9,4.1],[28.9,3.4],[30.2,5.5],[29.2,6.2],[24.6,6.6],[26.2,6.2],[26.5,2.1],[28.1,1.5],
// dense core under the red ellipse
[-6.1,8.8],[-3.9,8.6],[-1.5,8.9],[0.8,8.7],[2.4,8.9],[4.6,8.4],[-2.9,8.3],[-0.4,8.2],[-0.6,8.4],[-0.2,8.5],[-0.8,8.1],[1.7,8.4],[3.3,8.1],[5.3,8.8],[5.9,8.2],[-5.2,8.0],[-3.6,7.9],[-1.9,7.7],[0.3,7.8],[2.1,7.9],[4.1,7.6],[5.1,7.3],[-7.3,7.6],[-6.0,7.5],[-4.4,7.4],[-2.6,7.2],[-1.1,7.5],[1.0,7.2],[2.8,7.4],[4.5,7.0],[5.9,6.9],[-8.7,7.1],[-7.5,6.9],[-5.8,6.8],[-4.7,6.9],[-3.2,6.6],[-1.6,6.9],[-0.3,6.7],[1.5,6.8],[3.6,6.6],[6.2,6.5],[-9.6,6.4],[-8.4,6.5],[-7.0,6.2],[-5.5,6.3],[-4.1,6.1],[-2.2,6.3],[-0.9,6.1],[0.9,6.1],[2.2,6.2],[4.4,6.0],[5.7,5.9],[-10.9,6.0],[-9.2,5.8],[-6.4,5.7],[-5.0,5.6],[-3.5,5.8],[-1.7,5.7],[0.3,5.5],[1.6,5.6],[3.0,5.4],[4.9,5.5],[6.3,5.3],[-11.8,5.2],[-10.4,5.4],[-8.4,5.3],[-7.0,5.1],[-5.6,5.2],[-4.3,5.3],[-2.7,5.1],[-1.1,5.3],[0.2,5.0],[1.9,5.0],[3.5,5.1],[5.7,4.9],[-9.0,4.8],[-7.9,4.6],[-6.4,4.7],[-4.9,4.5],[-3.4,4.6],[-2.1,4.4],[-0.6,4.6],[1.1,4.4],[2.4,4.5],[4.3,4.4],[6.1,4.5],[-12.5,4.3],[-10.1,4.2],[-8.6,4.1],[-7.1,4.0],[-5.3,4.2],[-3.9,3.9],[-2.5,4.1],[-0.9,3.8],[0.4,4.1],[1.7,3.8],[3.6,3.7],[5.1,3.9],[6.8,3.7],[-15.8,3.6],[-13.9,3.7],[-12.2,3.6],[-9.7,3.5],[-8.4,3.3],[-6.6,3.5],[-5.1,3.4],[-3.3,3.3],[-1.4,3.4],[0.2,3.3],[1.2,3.2],[2.6,3.4],[4.6,3.2],[6.4,3.1],[8.1,3.2],[-17.2,3.0],[-15.4,2.8],[-14.2,3.0],[-11.5,3.0],[-10.0,2.9],[-8.6,2.7],[-7.0,2.9],[-5.7,2.7],[-4.2,2.9],[-2.7,2.7],[-0.9,2.8],[0.6,2.6],[2.3,2.7],[3.9,2.6],[5.8,2.5],[7.5,2.7],[8.7,2.6],[-18.2,2.2],[-16.1,2.4],[-14.6,2.3],[-13.2,2.1],[-11.6,2.3],[-9.5,2.3],[-8.3,2.0],[-6.8,2.2],[-5.4,2.1],[-3.8,2.2],[-2.2,2.1],[-0.4,2.2],[1.0,2.0],[2.7,2.0],[4.5,2.1],[6.3,1.9],[8.1,2.0],[-16.6,1.3],[-14.8,1.5],[-13.6,1.7],[-11.8,1.1],[-10.4,1.6],[-9.1,1.1],[-7.9,1.2],[-6.5,1.4],[-4.9,1.6],[-3.4,1.3],[-1.8,1.5],[-0.5,1.2],[0.8,1.4],[2.4,1.2],[3.6,1.5],[5.2,1.4],[-18.0,1.1],[-15.9,0.8],[-14.0,0.5],[-12.9,0.9],[-10.9,0.4],[-9.4,0.8],[-7.6,0.6],[-6.2,0.7],[-5.1,0.5],[-3.6,0.7],[-2.3,0.4],[-1.0,0.7],[0.4,0.4],[1.8,0.7],[3.2,0.4],[4.2,0.7],[-15.0,-0.1],[-13.0,-0.4],[-11.4,0.0],[-10.1,-0.2],[-8.4,-0.1],[-7.0,-0.3],[-5.7,0.0],[-4.2,-0.2],[-2.9,0.0],[-1.5,-0.2],[0.0,0.1],[1.3,-0.2],[2.7,0.1],[-16.4,-0.9],[-14.3,-0.8],[-12.3,-1.0],[-10.8,-0.7],[-9.3,-1.0],[-7.8,-0.7],[-6.3,-0.9],[-5.0,-0.7],[-3.4,-0.8],[-2.0,-0.6],[-0.7,-0.9],[0.8,-0.7],[2.1,-0.9],[-17.6,-1.4],[-15.4,-1.5],[-13.8,-1.5],[-11.8,-1.6],[-10.2,-1.4],[-8.6,-1.5],[-6.9,-1.6],[-5.6,-1.4],[-4.0,-1.6],[-2.5,-1.5],[-1.2,-1.3],[0.3,-1.5],[1.5,-1.4],[-18.1,-2.2],[-16.3,-2.1],[-14.7,-2.3],[-12.8,-2.1],[-11.1,-2.2],[-9.4,-2.1],[-7.6,-2.3],[-6.1,-2.1],[-4.6,-2.2],[-3.2,-2.0],[-1.7,-2.2],[-0.2,-2.0],[0.7,-2.3],[-16.9,-3.0],[-15.2,-3.1],[-13.5,-2.9],[-12.2,-3.0],[-10.6,-3.2],[-8.9,-2.9],[-7.3,-3.0],[-5.8,-3.2],[-4.2,-2.9],[-2.8,-3.1],[-1.3,-3.0],[-0.1,-3.2],[-16.5,-3.5],[-13.1,-3.6],[-11.6,-3.4],[-10.1,-3.7],[-8.0,-3.7],[-6.8,-3.5],[-5.2,-3.8],[-3.7,-3.6],[-2.1,-3.8],[-0.6,-3.6],[-13.6,-5.6],[-10.9,-4.5],[-9.5,-4.3],[-7.9,-4.4],[-6.3,-4.2],[-4.8,-4.5],[-3.3,-4.2],[-2.1,-4.6],[-12.5,-5.8],[-10.0,-5.2],[-8.6,-5.0],[-7.3,-5.4],[-5.7,-5.1],[-4.0,-5.3],[-2.8,-5.0],[-12.8,-6.4],[-10.8,-5.9],[-9.4,-6.0],[-8.0,-5.8],[-6.5,-6.0],[-5.1,-6.2],[-3.4,-5.9],[-2.2,-6.1],[-10.1,-6.9],[-8.7,-6.7],[-7.4,-6.6],[-6.0,-6.9],[-4.6,-6.5],[-3.0,-6.6],[-1.7,-7.0],
// second pass over the densest part of the core
[-4.5,6.6],[-3.0,7.4],[-1.2,6.4],[-2.4,5.5],[-0.8,5.7],[-4.6,4.9],[-3.1,5.1],[-1.6,4.9],[0.5,4.6],[2.7,4.9],[-6.1,4.5],[-4.3,3.6],[-3.0,4.3],[-1.9,3.7],[-0.2,3.7],[1.4,3.4],[3.0,3.9],[-7.6,3.9],[-6.0,3.1],[-4.7,3.1],[-3.6,2.6],[-2.3,3.1],[-1.1,2.4],[0.1,2.8],[1.7,2.4],[3.2,2.2],[-8.1,2.4],[-6.4,2.5],[-4.9,2.4],[-3.3,1.8],[-2.0,2.5],[-0.7,1.7],[0.5,1.7],[2.0,1.5],[3.9,1.2],[-9.0,1.8],[-7.4,1.7],[-5.7,1.8],[-4.3,1.3],[-2.9,1.5],[-1.4,1.0],[-0.1,0.9],[1.3,0.9],[2.9,0.9],[-8.8,1.0],[-6.9,0.9],[-5.5,1.0],[-4.4,0.4],[-3.0,0.9],[-1.7,0.2],[-0.5,0.4],[0.9,0.2],[2.3,0.4],[-7.9,0.1],[-6.6,0.2],[-5.1,-0.2],[-3.8,0.1],[-2.4,-0.3],[-1.1,-0.1],[0.3,-0.3],[1.7,-0.4],[-7.2,-1.1],[-5.9,-0.5],[-4.6,-1.0],[-3.0,-1.2],[-1.6,-0.9],[-0.2,-0.8],[1.1,-1.1],[-6.0,-1.8],[-4.8,-1.7],[-3.5,-1.9],[-2.2,-2.1],[-0.8,-1.7],[0.9,-1.7],[-5.3,-2.6],[-3.8,-2.5],[-2.4,-2.7],[-0.9,-2.4],[0.3,-2.8],[-9.1,3.2],[-10.4,2.5],[-11.2,1.7],[-12.0,1.0],[-10.0,0.3],[-8.8,-0.5],[-10.4,-1.1],[-9.0,-1.7],[-11.5,-1.9],[-12.9,-0.9],[-13.9,0.2],[-15.1,1.0],[-16.2,0.2],[-14.9,-1.2],[-13.0,-2.6],[-10.1,-2.7],[-8.1,-2.6],[-6.5,-2.8],[-7.5,-3.6],[-9.0,-3.2],[-11.0,-3.7],[-12.4,-3.4],[-14.1,-3.4],[-15.7,-3.8],[-4.5,-3.3],[-3.0,-3.6],[-1.4,-3.4],[-5.9,-4.0],[-4.4,-4.0],[-2.6,-4.3],[-1.1,-3.9],
[0.9,-1.0],[1.9,-1.6],[2.8,-1.1],[3.7,-1.4],[4.9,-1.4],[6.0,-1.6],[3.4,-0.6],[2.5,-0.5],[4.8,-0.8],[3.9,0.1],[5.2,0.3],[6.4,0.2],[4.6,0.8],[5.7,1.2],[6.9,1.4],[7.7,1.9],[5.9,2.1],[7.0,2.3],[8.8,2.0],[9.9,2.9],[8.6,3.3],[7.2,3.3],[6.0,3.6],[7.8,3.9],[9.3,3.9],[10.6,3.3],[8.3,4.4],[9.7,4.5],[7.1,4.5],[8.2,5.0],[9.2,5.2],[10.6,4.9],[7.9,5.6],[9.7,5.8],[6.9,5.5],[8.9,6.2],[6.6,6.9],[7.6,7.1],[3.0,6.0],[4.3,6.7],[2.1,5.4],[4.0,5.0],[5.2,4.4],
// lower part of the cloud inside the navy ellipse
[-9.2,-7.3],[-7.7,-7.5],[-6.2,-7.8],[-4.1,-7.6],[-2.4,-8.1],[-0.6,-8.4],[1.6,-8.0],[3.0,-7.8],[5.2,-7.4],[8.3,-8.1],[-8.8,-9.9],[-7.0,-9.6],[-5.3,-9.3],[-3.1,-9.0],[-1.1,-9.4],[0.4,-9.0],[2.5,-9.3],[4.3,-9.9],[7.0,-8.4],[8.4,-9.4],[-6.0,-9.0],[-2.3,-9.6],[1.1,-9.7],[3.1,-10.2],[-10.0,-10.0],[-8.0,-8.2],[-9.5,-9.4],[-5.6,-10.1],[-1.2,-11.1],[0.3,-10.9],[-1.6,-6.5],[-3.4,-7.0],[-0.4,-6.5],[-0.9,-7.1],[-2.0,-7.5],[1.4,-6.3],[2.1,-7.2],[4.0,-6.6],[5.9,-6.2],[7.0,-6.9],[8.9,-5.9],[9.4,-6.6],[3.1,-5.2],[0.8,-5.0],[-0.1,-5.6],[1.0,-4.2],[3.1,-3.6],[4.4,-3.0],[1.8,-3.0],[0.1,-2.6],[2.6,-2.3],[7.1,-3.1],[9.9,-5.0],[6.8,-5.0],[4.1,-4.6],
[5.7,-2.9],[3.5,-2.8],[1.4,-3.6],[2.9,-4.4],[4.5,-3.6],[0.3,-3.7],[6.9,-4.1],[5.7,-4.7],[2.0,-6.2],[0.4,-7.0],[-0.8,-5.9],[-1.9,-5.5],[3.3,-6.6],[4.9,-5.8],[5.8,-6.8],[8.2,-6.1],[9.0,-6.9],[10.0,-6.0],[6.5,-5.8],[1.6,-4.8],[-1.3,-5.1],[-0.4,-4.5],[8.3,-5.5],[8.1,-4.4],[10.1,-3.3],[8.9,-3.5],[11.4,-3.0],[10.0,-2.2],[6.7,-2.8],[5.0,-2.0],[2.8,-1.9],
// upper and middle fill above the red ellipse
[-12.3,4.9],[-8.9,7.8],[-10.1,7.9],[-6.7,8.0],[-4.8,8.2],[0.1,9.3],[1.9,9.6],[-1.0,9.8],[3.1,9.7],[4.7,9.9],[-0.3,9.0],[1.3,9.1],[2.7,8.5],[5.2,9.4],[4.0,9.6],[0.6,10.1],[-3.4,9.3],[-1.9,9.1]
];

// Layout
const width = 2800, height = 2000;
const panel = { left: 402, right: 2242, top: 23, bottom: 1863 };
const x = d3.scaleLinear().domain([-45.41, 70.17]).range([panel.left, panel.right]);
const y = d3.scaleLinear().domain([-25.12, 25.56]).range([panel.bottom, panel.top]);

const svg = d3.select("#chart").append("svg")
    .attr("width", width)
    .attr("height", height)
    .style("display", "block");

svg.append("rect").attr("width", width).attr("height", height).attr("fill", "#fff");

////////// Grid and zero lines //////////
const grid = svg.append("g");
xTicks.forEach(t => {
    grid.append("line")
        .attr("x1", x(t)).attr("x2", x(t))
        .attr("y1", panel.top).attr("y2", panel.bottom)
        .attr("stroke", "#EBEBEB").attr("stroke-width", 3);
});
yTicks.forEach(t => {
    grid.append("line")
        .attr("x1", panel.left).attr("x2", panel.right)
        .attr("y1", y(t)).attr("y2", y(t))
        .attr("stroke", "#EBEBEB").attr("stroke-width", 3);
});

grid.append("line")
    .attr("x1", panel.left).attr("x2", panel.right)
    .attr("y1", y(0)).attr("y2", y(0))
    .attr("stroke", "#BEBEBE").attr("stroke-width", 6).attr("stroke-dasharray", "23.5 23.5");
grid.append("line")
    .attr("x1", x(0)).attr("x2", x(0))
    .attr("y1", panel.bottom).attr("y2", panel.top)
    .attr("stroke", "#BEBEBE").attr("stroke-width", 6).attr("stroke-dasharray", "23.5 23.5");

////////// Ellipses //////////
const line = d3.line().x(d => x(d[0])).y(d => y(d[1]));

function ellipsePoints(i) {
    const r = ellipseR[i];
    return d3.range(0, 50).map(k => {
        const t = 2 * Math.PI * k / 50;
        return [
            ellipseCx[i] + ellipseSx[i] * Math.cos(t),
            ellipseCy[i] + ellipseSy[i] * (r * Math.cos(t) + Math.sqrt(1 - r * r) * Math.sin(t))
        ];
    });
}

groups.forEach((g, i) => {
    svg.append("path")
        .attr("d", line(ellipsePoints(i)) + "Z")
        .attr("fill", ellipseColors[i])
        .attr("fill-opacity", 0.3)
        .attr("stroke", ellipseColors[i])
        .attr("stroke-width", 11.5)
        .attr("stroke-linejoin", "round");
});

////////// Points //////////
const triangle = d3.symbol().type(d3.symbolTriangle);
const square = d3.symbol().type(d3.symbolSquare);

function drawPoints(data, draw) {
    const layer = svg.append("g");
    data.forEach(d => draw(layer, x(d[0]), y(d[1])));
}

function tri(layer, px, py, size) {
    return layer.append("path")
        .attr("d", triangle.size(size)())
        .attr("transform", `translate(${px},${py}) rotate(180)`);
}
function dia(layer, px, py, size) {
    return layer.append("path")
        .attr("d", square.size(size)())
        .attr("transform", `translate(${px},${py}) rotate(45)`);
}

drawPoints(tqc, (l, px, py) => tri(l, px, py, 125)
    .attr("fill", "#1433FF").attr("fill-opacity", 0.7)
    .attr("stroke", "#1433FF").attr("stroke-opacity", 0.8).attr("stroke-width", 2.4));

drawPoints(bqc, (l, px, py) => l.append("circle").attr("cx", px).attr("cy", py).attr("r", 6)
    .attr("fill", "#DA0A1C").attr("fill-opacity", 0.75)
    .attr("stroke", "#DA0A1C").attr("stroke-opacity", 0.8).attr("stroke-width", 2));

drawPoints(nist, (l, px, py) => dia(l, px, py, 85)
    .attr("fill", "#D4E2FF").attr("fill-opacity", 0.9)
    .attr("stroke", "#244A80").attr("stroke-width", 2.8));

drawPoints(ltr, (l, px, py) => dia(l, px, py, 85)
    .attr("fill", "#7A0A80").attr("fill-opacity", 0.75)
    .attr("stroke", "#7A0A80").attr("stroke-opacity", 0.8).attr("stroke-width", 2.4));

drawPoints(spl, (l, px, py) => l.append("circle").attr("cx", px).attr("cy", py).attr("r", 5.8)
    .attr("fill", "none")
    .attr("stroke", "#7F8C8D").attr("stroke-opacity", 0.75).attr("stroke-width", 2.8));

////////// Point labels //////////
labelNames.forEach((name, i) => {
    svg.append("text")
        .attr("x", x(labelPC1[i]))
        .attr("y", y(labelPC2[i]))
        .attr("dy", "0.35em")
        .attr("text-anchor", "middle")
        .style("font-size", "24px")
        .attr("fill", "#000")
        .text(name);
});

////////// Panel border and axes //////////
svg.append("rect")
    .attr("x", panel.left).attr("y", panel.top)
    .attr("width", panel.right - panel.left).attr("height", panel.bottom - panel.top)
    .attr("fill", "none").attr("stroke", "#595959").attr("stroke-width", 3);

const xAxis = svg.append("g")
    .attr("transform", `translate(0,${panel.bottom})`)
    .call(d3.axisBottom(x).tickValues(xTicks).tickSize(12).tickPadding(10));
const yAxis = svg.append("g")
    .attr("transform", `translate(${panel.left},0)`)
    .call(d3.axisLeft(y).tickValues(yTicks).tickSize(12).tickPadding(10));

[xAxis, yAxis].forEach(a => {
    a.select(".domain").remove();
    a.selectAll("line").attr("stroke", "#4D4D4D").attr("stroke-width", 3);
    a.selectAll("text").attr("fill", "#4D4D4D").style("font-size", "33px")
        .style("font-family", '"Liberation Sans", Arial, sans-serif');
});
// R prints a plain hyphen on its tick labels
xAxis.selectAll("text").text(d => d);
yAxis.selectAll("text").text(d => d);

svg.append("text")
    .attr("x", (panel.left + panel.right) / 2)
    .attr("y", 1970)
    .attr("text-anchor", "middle")
    .style("font-size", "53px")
    .attr("fill", "#000")
    .text("PC1 (27.7%)");

svg.append("text")
    .attr("transform", `translate(309,${(panel.top + panel.bottom) / 2}) rotate(-90)`)
    .attr("text-anchor", "middle")
    .style("font-size", "53px")
    .attr("fill", "#000")
    .text("PC2 (12.2%)");

////////// Legend //////////
const legendOrder = ["TQC", "BQC", "NIST", "LTR", "SPL"];
const keyX = 2312, keyTop = 705, keySize = 92, keyStep = 96;
const pointColors = { TQC: "#1433FF", BQC: "#DA0A1C", NIST: "#244A80", LTR: "#7A0A80", SPL: "#7F8C8D" };

legendOrder.forEach((name, i) => {
    const idx = groups.indexOf(name);
    const top = keyTop + i * keyStep;
    const cx = keyX + keySize / 2, cy = top + keySize / 2;
    const key = svg.append("g");
    key.append("rect").attr("x", keyX).attr("y", top).attr("width", keySize).attr("height", keySize).attr("fill", "#fff");
    key.append("rect")
        .attr("x", keyX + 5.85).attr("y", top + 5.85)
        .attr("width", keySize - 11.7).attr("height", keySize - 11.7)
        .attr("fill", ellipseColors[idx]).attr("fill-opacity", 0.3)
        .attr("stroke", ellipseColors[idx]).attr("stroke-width", 11.7);

    let mark;
    if (name === "TQC") mark = tri(key, cx, cy, 150);
    else if (name === "BQC") mark = key.append("circle").attr("cx", cx).attr("cy", cy).attr("r", 7.5);
    else if (name === "SPL") mark = key.append("circle").attr("cx", cx).attr("cy", cy).attr("r", 7.5);
    else mark = dia(key, cx, cy, 130);

    const fillOpacity = name === "SPL" ? 0 : 0.3;
    const fill = name === "NIST" ? "#D4E2FF" : pointColors[name];
    mark.attr("fill", fill).attr("fill-opacity", name === "NIST" ? 0.6 : fillOpacity)
        .attr("stroke", pointColors[name]).attr("stroke-opacity", 0.3).attr("stroke-width", 2.8);

    key.append("text")
        .attr("x", 2428)
        .attr("y", cy)
        .attr("dy", "0.36em")
        .style("font-size", "35px")
        .attr("fill", "#000")
        .text(name);
});
</script>
</body>
</html>
